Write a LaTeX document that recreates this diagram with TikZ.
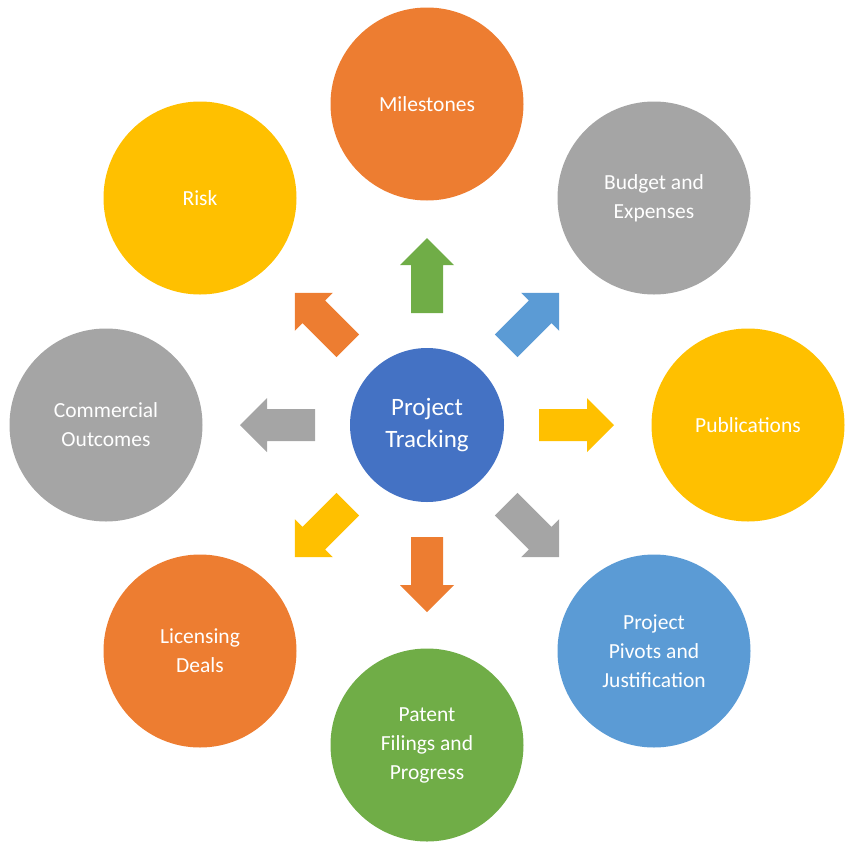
\documentclass[tikz,border=0pt]{standalone}
\usepackage{fontspec}
\setmainfont{Carlito}
\definecolor{corange}{HTML}{ED7D31}
\definecolor{cgray}{HTML}{A5A5A5}
\definecolor{cgold}{HTML}{FFC000}
\definecolor{cblue}{HTML}{4472C4}
\definecolor{clblue}{HTML}{5B9BD5}
\definecolor{cgreen}{HTML}{70AD47}
\begin{document}
\begin{tikzpicture}[x=1pt,y=-1pt,
  outer/.style={circle,minimum size=193pt,inner sep=0pt,text=white,align=center,font=\fontsize{21.5}{29}\selectfont},
  inner/.style={circle,minimum size=154pt,inner sep=0pt,text=white,align=center,font=\fontsize{25}{32}\selectfont}]
\useasboundingbox (0,0) rectangle (854,852);
\node[inner,fill=cblue] (c) at (427,425) {Project\\Tracking};
\node[outer,fill=corange] (m) at (427,104) {Milestones};
\node[outer,fill=cgray] (b) at (654,198) {Budget and\\Expenses};
\node[outer,fill=cgold] (p) at (748,425) {Publications};
\node[outer,fill=clblue] (pp) at (654,651) {Project\\Pivots and\\Justification};
\node[outer,fill=cgreen] (pf) at (427,745) {Patent\\Filings and\\Progress};
\node[outer,fill=corange] (l) at (200,651) {Licensing\\Deals};
\node[outer,fill=cgray] (co) at (106,425) {Commercial\\Outcomes};
\node[outer,fill=cgold] (r) at (200,198) {Risk};
\foreach \ang/\col in {-90/corange,-45/cgray,0/cgold,45/clblue,90/cgreen,135/corange,180/cgray,-135/cgold}{
  \begin{scope}[shift={(c.center)},rotate=\ang]
    \fill[\col] (112,-16) -- (160,-16) -- (160,-27) -- (187,0) -- (160,27) -- (160,16) -- (112,16) -- cycle;
  \end{scope}
}
\end{tikzpicture}
\end{document}
